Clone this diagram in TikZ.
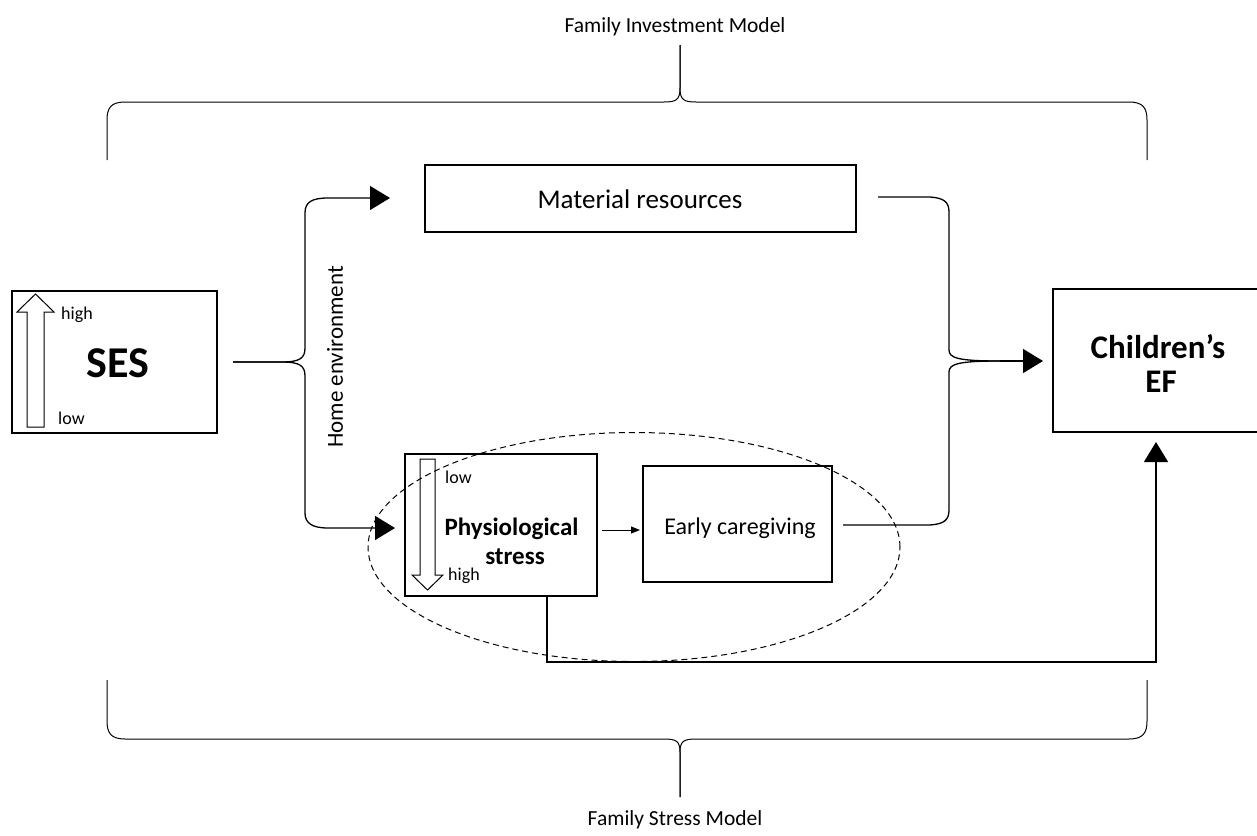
\documentclass[tikz,border=0pt]{standalone}
\usepackage{fontspec}
\setmainfont{Carlito}
\usetikzlibrary{arrows.meta,shapes.geometric}
\newcommand{\fsz}[1]{\fontsize{#1}{#1}\selectfont}
\begin{document}
\begin{tikzpicture}[x=1pt,y=-1pt,
  box/.style={draw,line width=1.3pt,inner sep=0pt,anchor=center},
  conn/.style={line width=1.3pt},
  bigtip/.style={-{Triangle[length=20pt,width=24pt]}},
  smalltip/.style={-{Triangle[length=9pt,width=7pt]}},
  hollow/.style={draw,line width=1pt,fill=white},
  lbl/.style={inner sep=0pt}]
\useasboundingbox (0,0) rectangle (1257,835);
% boxes
\node[box,minimum width=205pt,minimum height=142pt] (ses) at (114.5,362) {};
\node[box,minimum width=431pt,minimum height=67pt] (mat) at (640.5,198.5) {};
\node[lbl] (mattext) at (640,199) {\fsz{27}Material resources};
\node[box,minimum width=192pt,minimum height=142pt] (phys) at (501,525) {};
\node[box,minimum width=189pt,minimum height=116pt] (early) at (737.5,524) {};
\node[lbl] (earlytext) at (740,528) {\fsz{24}Early caregiving};
\node[box,minimum width=214pt,minimum height=143pt] (ef) at (1160,360.5) {};
\node[lbl] (eftext1) at (1158,347) {\fsz{33}\bfseries Children’s};
\node[lbl] (eftext2) at (1161,382) {\fsz{33}\bfseries EF};
% SES contents
\draw[hollow] (27,427) -- (27,312) -- (17,312) -- (35.5,294) -- (54,312) -- (44,312) -- (44,427) -- cycle;
\node[lbl,anchor=west] (seshigh) at (61,315) {\fsz{18}high};
\node[lbl,anchor=west] (seslow) at (58,418) {\fsz{18}low};
\node[lbl] (sestext) at (118,363) {\fsz{44}\bfseries SES};
% physiological stress contents
\draw[hollow] (420,459) -- (435,459) -- (435,575) -- (443,575) -- (427.5,590) -- (412,575) -- (420,575) -- cycle;
\node[lbl,anchor=west] (physlow) at (445,477) {\fsz{18}low};
\node[lbl] (phystext) at (511.5,529) {\fsz{25}\bfseries Physiological};
\node[lbl] (stresstext) at (515,557) {\fsz{25}\bfseries stress};
\node[lbl,anchor=west] (physhigh) at (448,576) {\fsz{18}high};
% dashed ellipse
\node[draw,dash pattern=on 6pt off 4pt,line width=1pt,ellipse,minimum width=532pt,minimum height=229pt,inner sep=0pt] (stressell) at (634,547) {};
% titles
\node[lbl] (fim) at (675,27) {\fsz{21.5}Family Investment Model};
\node[lbl] (fsm) at (675,820) {\fsz{21.5}Family Stress Model};
% connector end points
\coordinate (fimtip) at (680,45);
\coordinate (fsmtip) at (680,797);
\coordinate (sesout) at (233,362);
\coordinate (matin) at (390,198);
\coordinate (physin) at (395,528);
\coordinate (physr) at (602,530);
\coordinate (earlyl) at (640,530);
\coordinate (matout) at (878,197);
\coordinate (earlyout) at (843,525);
\coordinate (rbtip) at (1000,361);
\coordinate (efin) at (1043,361);
\coordinate (physbot) at (547,596);
\coordinate (efbot) at (1156,442);
% top brace
\draw[conn,line width=1pt] (fimtip) -- (680,88) .. controls (680,100) and (676,102) .. (664,102) -- (125,102) .. controls (111,102) and (107,108) .. (107,120) -- (107,160);
\draw[conn,line width=1pt] (fimtip) -- (680,88) .. controls (680,100) and (684,102) .. (696,102) -- (1129,102) .. controls (1143,102) and (1147,108) .. (1147,120) -- (1147,160);
% bottom brace
\draw[conn,line width=1pt] (fsmtip) -- (680,752) .. controls (680,741) and (676,739) .. (664,739) -- (125,739) .. controls (111,739) and (107,733) .. (107,721) -- (107,680);
\draw[conn,line width=1pt] (fsmtip) -- (680,752) .. controls (680,741) and (684,739) .. (696,739) -- (1129,739) .. controls (1143,739) and (1147,733) .. (1147,721) -- (1147,680);
% home environment brace
\draw[conn,bigtip] (sesout) -- (282,362) .. controls (300,362) and (305,358) .. (305,348) -- (305,213) .. controls (305,202) and (312,198) .. (328,198) -- (matin);
\draw[conn,bigtip] (sesout) -- (282,362) .. controls (300,362) and (305,366) .. (305,376) -- (305,513) .. controls (305,523) and (312,528) .. (328,528) -- (physin);
\node[lbl,rotate=90] (homeenv) at (335,357) {\fsz{23}Home environment};
% phys -> early
\draw[conn,line width=1pt,smalltip] (physr) -- (earlyl);
% right brace
\draw[conn] (matout) -- (930,197) .. controls (944,198) and (949,202) .. (949,212) -- (949,350) .. controls (949,358) and (958,361) .. (rbtip);
\draw[conn] (earlyout) -- (930,525) .. controls (944,524) and (949,520) .. (949,510) -- (949,372) .. controls (949,364) and (958,361) .. (rbtip);
\draw[conn,bigtip] (rbtip) -- (efin);
% phys -> children's EF
\draw[conn,bigtip] (physbot) -- (547,662) -- (1156,662) -- (efbot);
\end{tikzpicture}
\end{document}
